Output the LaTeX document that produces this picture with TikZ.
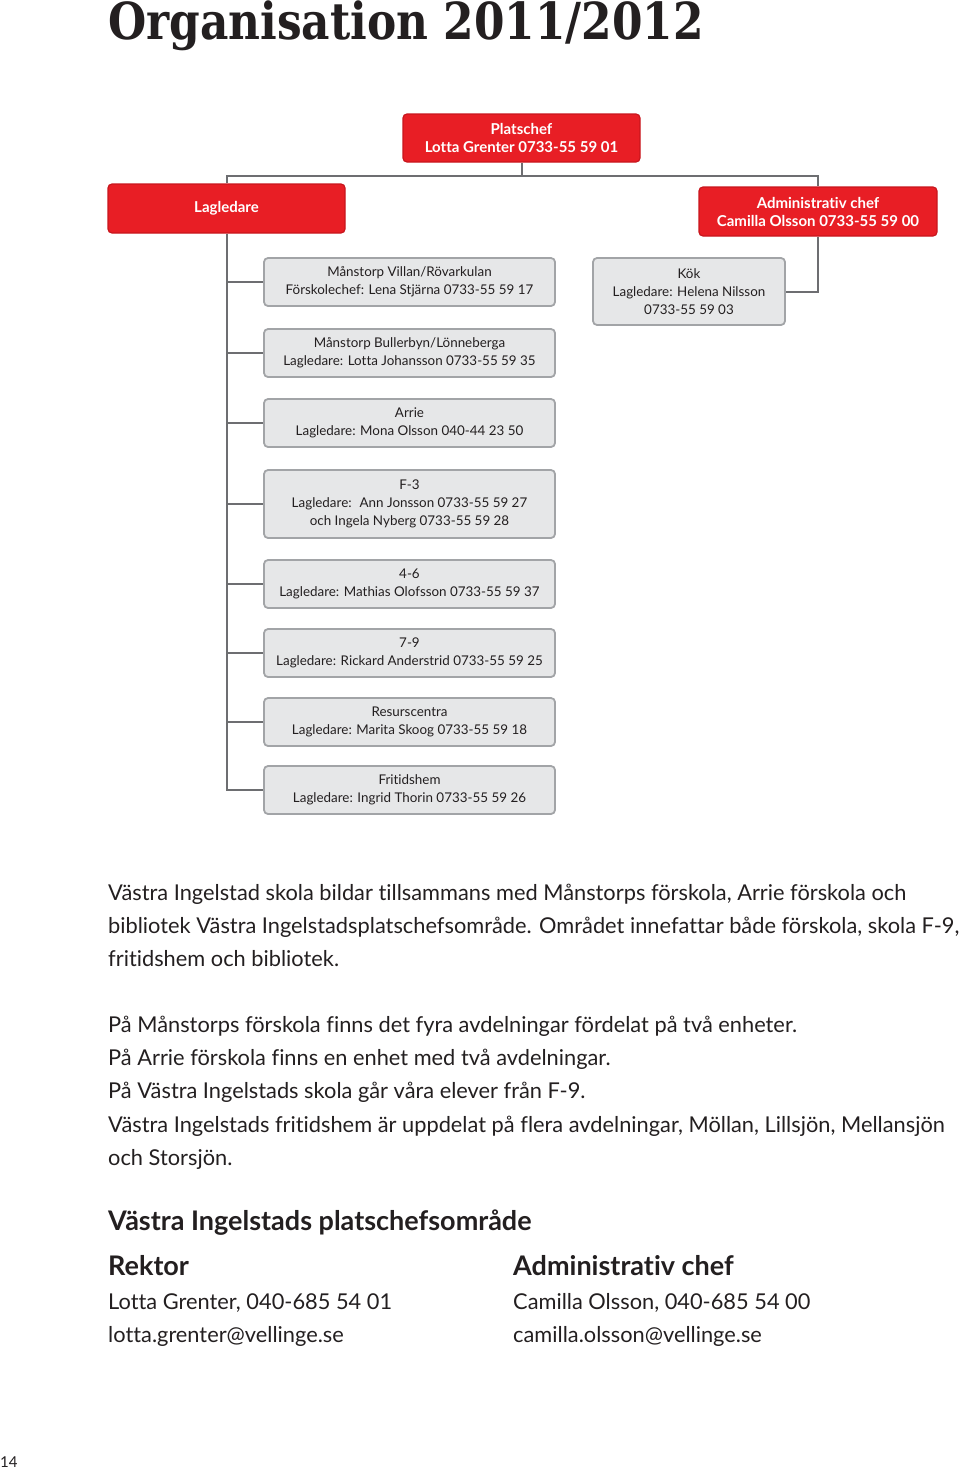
\documentclass[tikz,border=0pt]{standalone}
\usepackage{fontspec}
\setmainfont[Ligatures=NoCommon]{Lato}
\newfontfamily\titlefont{DejaVu Serif}
\definecolor{cred}{HTML}{E81E25}
\definecolor{credline}{HTML}{C8161D}
\definecolor{boxfill}{HTML}{E6E7E8}
\definecolor{boxline}{HTML}{A2A4A7}
\definecolor{linec}{HTML}{6D6E71}
\definecolor{txt}{HTML}{231F20}
\begin{document}
\begin{tikzpicture}[x=1pt,y=-1pt,
  redbox/.style={draw=credline, fill=cred, rounded corners=4pt, line width=1.2pt, text=white,
    font=\fontsize{15}{18}\selectfont\bfseries, align=center, inner sep=0pt},
  graybox/.style={draw=boxline, fill=boxfill, rounded corners=4pt, line width=1.8pt, text=txt,
    font=\fontsize{13.4}{18}\selectfont, align=center, inner sep=0pt, minimum width=291pt},
  conn/.style={draw=linec, line width=2pt},
  bodytext/.style={anchor=base west, inner sep=0pt, text=txt, font=\fontsize{21.8}{33}\selectfont},
  headtext/.style={anchor=base west, inner sep=0pt, text=txt, font=\fontsize{27}{33}\selectfont\bfseries}
]
\useasboundingbox (0,0) rectangle (960,1472);
\node[anchor=base west, inner sep=0pt, text=txt, font=\titlefont\fontsize{51}{51}\selectfont\bfseries] (title) at (108,40) {\scalebox{0.86}[1]{Organisation 2011/2012}};

% top level
\node[redbox, minimum width=237pt, minimum height=48pt] (plat) at (521.5,138) {Platschef\\Lotta Grenter 0733-55 59 01};
\node[redbox, minimum width=237pt, minimum height=49pt] (lag) at (226.5,208.5) {Lagledare};
\node[redbox, minimum width=238pt, minimum height=49pt] (adm) at (818,211.5) {Administrativ chef\\Camilla Olsson 0733-55 59 00};
\node[graybox, minimum width=192pt, minimum height=67pt] (kok) at (689,291.5) {Kök\\Lagledare: Helena Nilsson\\0733-55 59 03};

% gray boxes
\node[graybox, minimum height=48pt] (g1) at (409.5,282) {Månstorp Villan/Rövarkulan\\Förskolechef: Lena Stjärna 0733-55 59 17};
\node[graybox, minimum height=48pt] (g2) at (409.5,353) {Månstorp Bullerbyn/Lönneberga\\Lagledare: Lotta Johansson 0733-55 59 35};
\node[graybox, minimum height=48pt] (g3) at (409.5,423) {Arrie\\Lagledare: Mona Olsson 040-44 23 50};
\node[graybox, minimum height=68pt] (g4) at (409.5,504) {F-3\\Lagledare: \ Ann Jonsson 0733-55 59 27\\och Ingela Nyberg 0733-55 59 28};
\node[graybox, minimum height=48pt] (g5) at (409.5,584) {4-6\\Lagledare: Mathias Olofsson 0733-55 59 37};
\node[graybox, minimum height=48pt] (g6) at (409.5,653) {7-9\\Lagledare: Rickard Anderstrid 0733-55 59 25};
\node[graybox, minimum height=48pt] (g7) at (409.5,722) {Resurscentra\\Lagledare: Marita Skoog 0733-55 59 18};
\node[graybox, minimum height=48pt] (g8) at (409.5,790) {Fritidshem\\Lagledare: Ingrid Thorin 0733-55 59 26};

% connectors
\coordinate (bus) at (521.5,176);
\draw[conn] (plat.south) -- (bus);
\draw[conn] (lag.north) |- (bus) -| (adm.north);
\draw[conn] (adm.south) |- (kok.east);
\draw[conn] (lag.south) |- (g8.west);
\foreach \g in {g1,g2,g3,g4,g5,g6,g7}{
  \draw[conn] (lag.south |- \g.west) -- (\g.west);
}

% body text
\node[bodytext] (p1) at (108,900) {Västra Ingelstad skola bildar tillsammans med Månstorps förskola, Arrie förskola och};
\node[bodytext] (p2) at (108,933) {bibliotek Västra Ingelstadsplatschefsområde. Området innefattar både förskola, skola F-9,};
\node[bodytext] (p3) at (108,966) {fritidshem och bibliotek.};
\node[bodytext] (q1) at (108,1032) {På Månstorps förskola finns det fyra avdelningar fördelat på två enheter.};
\node[bodytext] (q2) at (108,1065) {På Arrie förskola finns en enhet med två avdelningar.};
\node[bodytext] (q3) at (108,1098) {På Västra Ingelstads skola går våra elever från F-9.};
\node[bodytext] (q4) at (108,1132) {Västra Ingelstads fritidshem är uppdelat på flera avdelningar, Möllan, Lillsjön, Mellansjön};
\node[bodytext] (q5) at (108,1165) {och Storsjön.};
\node[headtext] (h1) at (108,1230) {Västra Ingelstads platschefsområde};
\node[headtext] (h2) at (108,1275) {Rektor};
\node[bodytext] (r1) at (108,1309) {Lotta Grenter, 040-685 54 01};
\node[bodytext] (r2) at (108,1342) {lotta.grenter@vellinge.se};
\node[headtext] (h3) at (513,1275) {Administrativ chef};
\node[bodytext] (a1) at (513,1309) {Camilla Olsson, 040-685 54 00};
\node[bodytext] (a2) at (513,1342) {camilla.olsson@vellinge.se};
\node[anchor=base west, inner sep=0pt, text=txt, font=\fontsize{15}{15}\selectfont] (pg) at (0,1467) {14};
\end{tikzpicture}
\end{document}
